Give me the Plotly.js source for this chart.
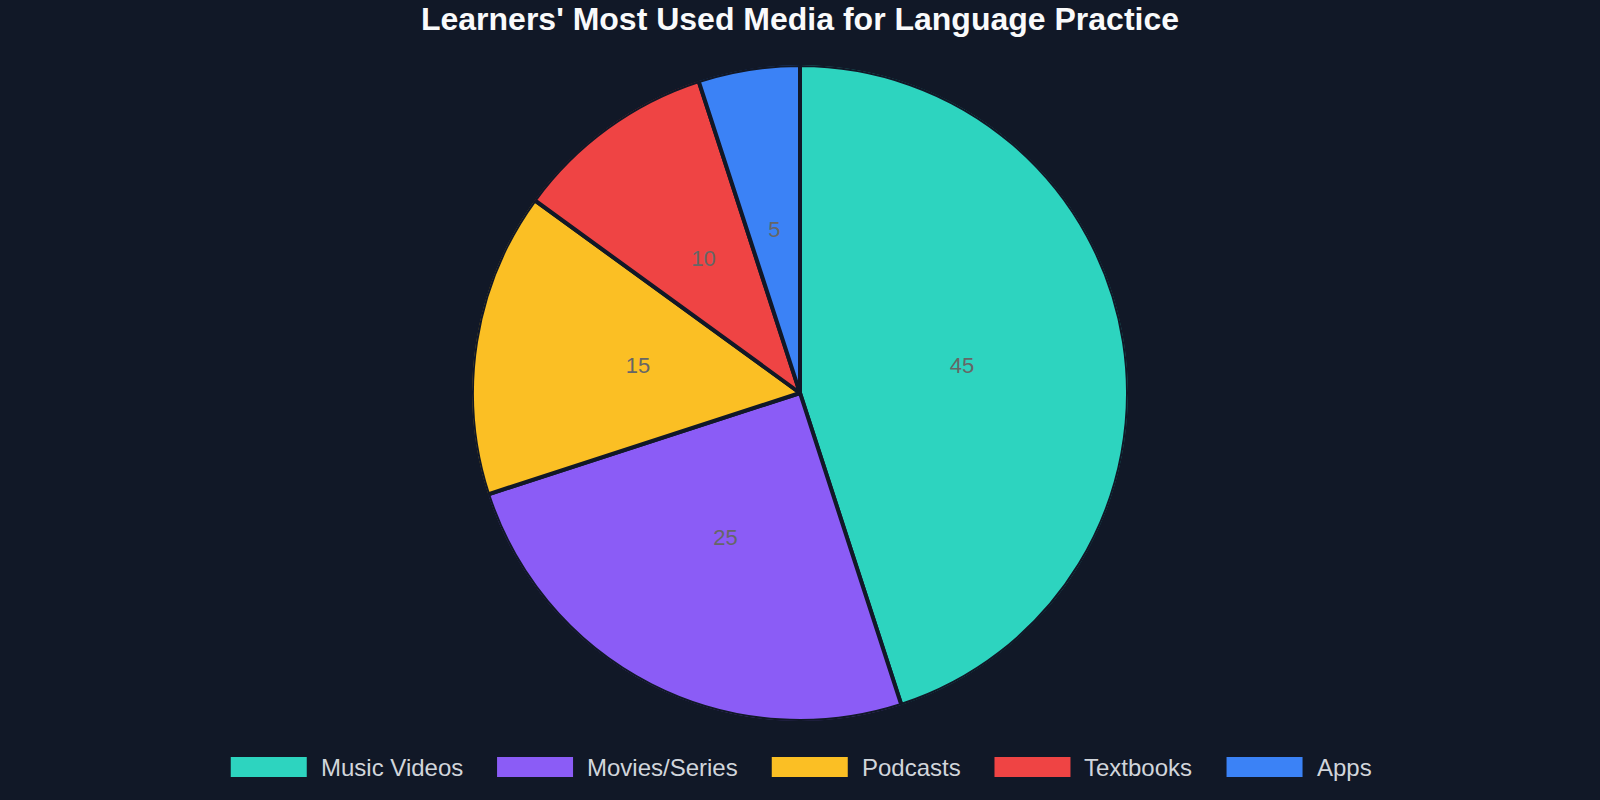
<!DOCTYPE html>
<html>
<head>
<meta charset="utf-8">
<script src="https://cdn.plot.ly/plotly-3.0.1.min.js"></script>
<style>
html,body{margin:0;padding:0;background:#111827;}
#chart{width:1600px;height:800px;}
</style>
</head>
<body>
<div id="chart"></div>
<script>
const categories = ["Music Videos", "Movies/Series", "Podcasts", "Textbooks", "Apps"];
const values = [45, 25, 15, 10, 5];
const colors = ["#2dd4bf", "#8b5cf6", "#fbbf24", "#ef4444", "#3b82f6"];
const titleText = "Learners' Most Used Media for Language Practice";

const bg = "#111827";
const W = 1600, H = 800;
const M = {l: 0, r: 0, t: 65, b: 79};
const plotH = H - M.t - M.b;
const legendFont = 24;
const fontFamily = "Liberation Sans, Arial, sans-serif";

// slice geometry (degrees, clockwise from top), derived from values
const totalVal = values.reduce((a, b) => a + b, 0);
let cum = 0;
const sliceWidths = values.map(v => v / totalVal * 360);
const midAngles = values.map(v => { const m = (cum + v / 2) / totalVal * 360; cum += v; return m; });
const fullR = values.map(() => 1);
const labelR = values.map(() => 0.5);

// Custom wide-swatch legend built from categories/colors
const canvas = document.createElement("canvas");
const ctx = canvas.getContext("2d");
ctx.font = legendFont + "px 'Liberation Sans'";
const swW = 76, swH = 20, gap = 12, itemGap = 36;
const widths = categories.map(c => ctx.measureText(c).width);
let total = 0;
widths.forEach((w, i) => { total += swW + gap + w + (i < widths.length - 1 ? itemGap : 0); });
let x = W / 2 - total / 2;
const legendY = 767;
const py = yy => (H - yy - M.b) / plotH;
const shapes = [], annotations = [];
categories.forEach((c, i) => {
  shapes.push({type: "rect", xref: "paper", yref: "paper",
    x0: x / W, x1: (x + swW) / W,
    y0: py(legendY + swH / 2), y1: py(legendY - swH / 2),
    fillcolor: colors[i], line: {width: 0}});
  annotations.push({xref: "paper", yref: "paper", x: (x + swW + gap) / W,
    y: py(legendY), xanchor: "left", yanchor: "middle",
    text: c, showarrow: false, font: {size: legendFont, color: "#d1d5db", family: fontFamily}});
  x += swW + gap + widths[i] + itemGap;
});

const data = [{
  type: "barpolar",
  r: fullR,
  theta: midAngles,
  width: sliceWidths,
  text: categories,
  customdata: values,
  marker: {color: colors, line: {color: bg, width: 4}},
  hovertemplate: "%{text}: %{customdata}<extra></extra>",
  showlegend: false
}, {
  type: "scatterpolar",
  mode: "text",
  r: labelR,
  theta: midAngles,
  text: values.map(String),
  textposition: "middle center",
  textfont: {size: 22, color: "#666666", family: fontFamily},
  hoverinfo: "skip",
  showlegend: false
}];

const layout = {
  width: W, height: H,
  paper_bgcolor: bg, plot_bgcolor: bg,
  margin: M,
  title: {text: "<b>" + titleText + "</b>", font: {size: 32, color: "#f9fafb", family: fontFamily},
    x: 0.5, xanchor: "center", y: 0.977, yanchor: "middle"},
  showlegend: false,
  polar: {
    domain: {x: [0, 1], y: [0, 1]},
    bgcolor: "rgba(0,0,0,0)",
    bargap: 0,
    radialaxis: {range: [0, 1], visible: false, showgrid: false, showline: false},
    angularaxis: {rotation: 90, direction: "clockwise", visible: false, showgrid: false, showline: false}
  },
  shapes: shapes,
  annotations: annotations
};

Plotly.newPlot("chart", data, layout, {displayModeBar: false});
</script>
</body>
</html>
